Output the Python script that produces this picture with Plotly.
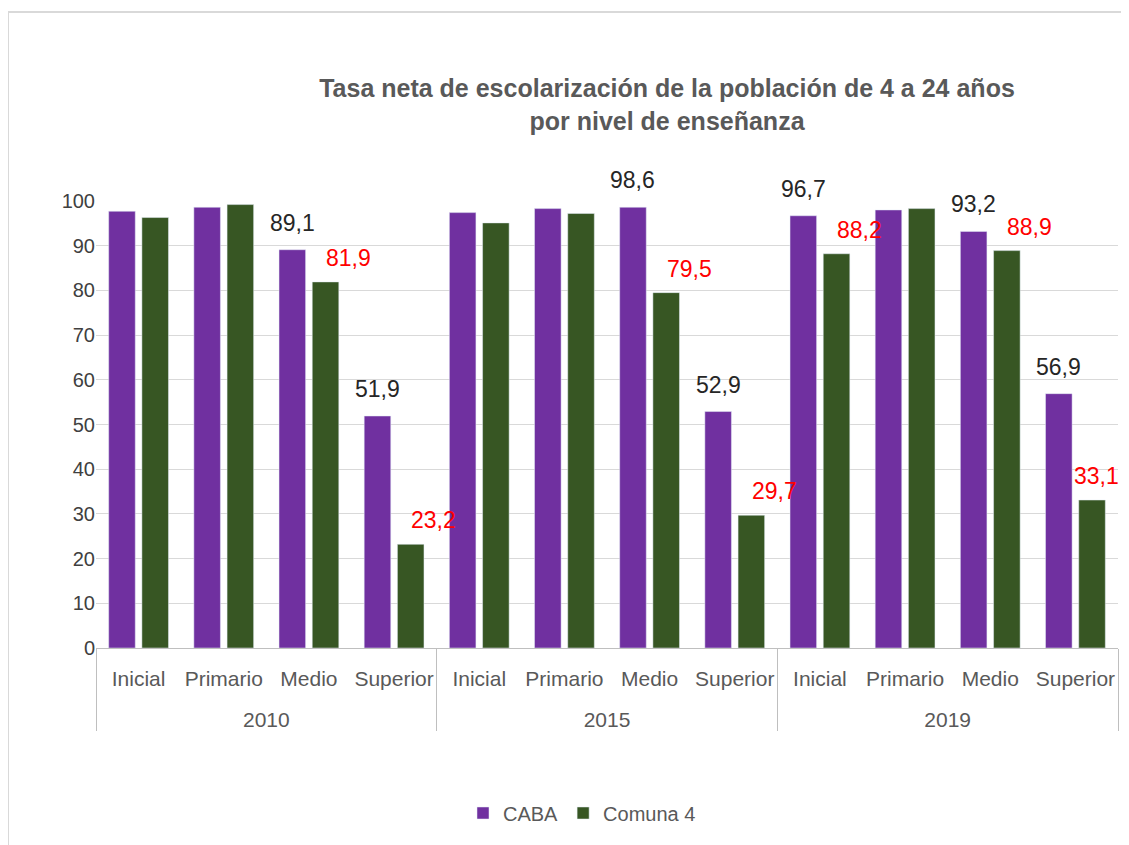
import plotly.graph_objects as go

# Data
years = ["2010", "2015", "2019"]
levels = ["Inicial", "Primario", "Medio", "Superior"]

caba = [97.7, 98.6, 89.1, 51.9,
        97.4, 98.3, 98.6, 52.9,
        96.7, 98.0, 93.2, 56.9]
comuna4 = [96.3, 99.2, 81.9, 23.2,
           95.1, 97.2, 79.5, 29.7,
           88.2, 98.3, 88.9, 33.1]

# which bars carry a data label (as in the original)
caba_labeled = [False, False, True, True,
                False, False, True, True,
                True, False, True, True]
comuna_labeled = [False, False, True, True,
                  False, False, True, True,
                  True, False, True, True]

# outer labels get a blank first line so they sit lower, like Excel
x_year = ["<br>" + y for y in years for _ in levels]
x_level = [lv for _ in years for lv in levels]


def fmt(v):
    return f"{v:.1f}".replace(".", ",")


font_family = "Liberation Sans, Arial, sans-serif"
BARGAP = 0.22

fig = go.Figure()
fig.add_trace(go.Bar(
    x=[x_year, x_level], y=caba, name="CABA",
    marker=dict(color="#7030A0"),
))
fig.add_trace(go.Bar(
    x=[x_year, x_level], y=comuna4, name="Comuna 4",
    marker=dict(color="#375623"),
))

# data labels as annotations (Excel puts the Comuna ones off to the right)
half = (1 - BARGAP) / 4
n = len(caba)
annotations = []
for i, (v, show) in enumerate(zip(caba, caba_labeled)):
    if show:
        annotations.append(dict(
            x=i - half, y=v, xref="x", yref="y", text=fmt(v),
            showarrow=False, yanchor="bottom", yshift=12,
            font=dict(size=23, color="#262626", family=font_family)))
for i, (v, show) in enumerate(zip(comuna4, comuna_labeled)):
    if show:
        annotations.append(dict(
            x=i + half, y=v, xref="x", yref="y", text=fmt(v),
            showarrow=False, yanchor="bottom", yshift=9,
            xshift=23 if i < n - 1 else 4,  # keep the last one on the page
            font=dict(size=23, color="#FF0000", family=font_family)))

# page has an 8px body margin, so the figure is laid out 8px smaller
OFF = 8
W, H = 1129 - OFF, 845 - OFF
L, R, T, B = 96 - OFF, 11, 201 - OFF, 197
pw, ph = W - L - R, H - T - B


def px_x(px):
    return (px - OFF - L) / pw


def px_y(py):
    return (H - B - (py - OFF)) / ph


fig.update_layout(
    width=W, height=H,
    margin=dict(l=L, r=R, t=T, b=B),
    paper_bgcolor="#ffffff",
    plot_bgcolor="#ffffff",
    font=dict(family=font_family, size=20, color="#595959"),
    title=dict(
        text="<b>Tasa neta de escolarización de la población de 4 a 24 años<br>por nivel de enseñanza</b>",
        x=px_x(667), xref="paper", xanchor="center",
        y=1 - (97 - OFF) / H, yref="container", yanchor="middle",
        font=dict(size=25, color="#595959", family=font_family),
    ),
    barmode="group",
    bargap=BARGAP,
    bargroupgap=0.2,
    annotations=annotations,
    yaxis=dict(
        range=[0, 100],
        dtick=10,
        showgrid=True,
        gridcolor="#D9D9D9",
        gridwidth=1,
        zeroline=False,
        showline=False,
        tickfont=dict(size=20, color="#404040"),
        ticks="",
    ),
    xaxis=dict(
        type="multicategory",
        range=[-0.5, len(x_level) - 0.5],
        showline=True,
        linecolor="#BFBFBF",
        linewidth=1,
        showdividers=True,
        dividercolor="#BFBFBF",
        dividerwidth=1,
        tickangle=0,
        ticklabelstandoff=12,
        tickfont=dict(size=21, color="#595959"),
        ticks="",
    ),
    legend=dict(
        orientation="h",
        x=px_x(582), xanchor="center",
        y=px_y(813), yanchor="middle",
        font=dict(size=20, color="#595959"),
        itemwidth=30,
    ),
    shapes=[
        dict(type="line", xref="paper", yref="paper",
             x0=px_x(8), x1=px_x(1140), y0=px_y(12), y1=px_y(12),
             line=dict(color="#D9D9D9", width=2)),
        dict(type="line", xref="paper", yref="paper",
             x0=px_x(8), x1=px_x(8), y0=px_y(12), y1=px_y(850),
             line=dict(color="#D9D9D9", width=2)),
    ],
)

fig.write_html("out.html")
